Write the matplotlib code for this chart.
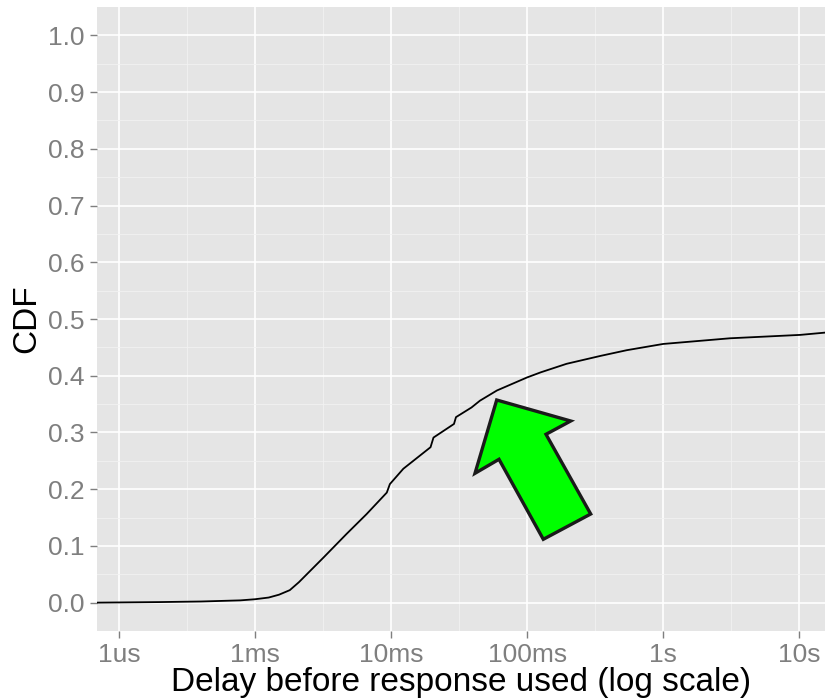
import matplotlib
matplotlib.use("Agg")
import matplotlib.pyplot as plt
from matplotlib.patches import Polygon
from matplotlib.ticker import FixedLocator, NullFormatter
import numpy as np

plt.rcParams['font.family'] = ['Liberation Sans', 'DejaVu Sans']

# delay (seconds, log axis) and cumulative fraction of responses used
delay_s = [6.9e-5, 2.0e-4, 4.0e-4, 7.8e-4, 1.0e-3, 1.26e-3, 1.5e-3, 1.8e-3,
           2.1e-3, 3.2e-3, 4.7e-3, 6.6e-3,
           9.3e-3, 9.8e-3, 1.23e-2, 1.95e-2, 2.05e-2, 2.9e-2, 3.0e-2, 3.9e-2,
           4.5e-2, 6.0e-2, 0.1, 0.126, 0.195, 0.347, 0.54, 1.0, 3.1, 10.2, 15.5]
cdf = [0.0, 0.001, 0.002, 0.004, 0.006, 0.009, 0.014, 0.022,
       0.036, 0.080, 0.121, 0.156,
       0.194, 0.209, 0.236, 0.274, 0.291, 0.315, 0.327, 0.344,
       0.356, 0.374, 0.397, 0.406, 0.421, 0.435, 0.445, 0.456, 0.466, 0.472, 0.476]

tick_pos = [1e-4, 1e-3, 1e-2, 1e-1, 1, 10]
tick_labels = ["1us", "1ms", "10ms", "100ms", "1s", "10s"]
y_ticks = [i / 10 for i in range(11)]

# arrow outline in figure pixels (x, y from top)
arrow_px = [(496.7, 400), (570.7, 421), (546, 434.3), (590.7, 514),
            (543.3, 539.3), (499, 459.3), (475, 473.3)]

W, H = 825, 700
fig = plt.figure(figsize=(W / 100, H / 100), dpi=100)
ax = fig.add_axes([97 / W, 1 - 631 / H, 1 - 97 / W, (631 - 7) / H])

ax.set_facecolor('#E5E5E5')
for s in ax.spines.values():
    s.set_visible(False)

ax.set_xscale('log')
ax.set_xlim(10 ** -4.162, 10 ** 1.19)
ax.set_ylim(-0.05, 1.05)

ax.xaxis.set_major_locator(FixedLocator(tick_pos))
ax.set_xticklabels(tick_labels)
minor_x = [np.sqrt(a * b) for a, b in zip(tick_pos[:-1], tick_pos[1:])]
minor_x = [10 ** -4.5] + minor_x + [10 ** 1.5]
ax.xaxis.set_minor_locator(FixedLocator(minor_x))
ax.xaxis.set_minor_formatter(NullFormatter())
ax.set_yticks(y_ticks)
ax.set_yticklabels([f"{v:.1f}" for v in y_ticks])
ax.yaxis.set_minor_locator(FixedLocator([v + 0.05 for v in y_ticks[:-1]]))

ax.grid(which='major', color='white', linewidth=1.2)
ax.grid(which='minor', color='#F2F2F2', linewidth=0.6)
ax.set_axisbelow(True)

ax.tick_params(which='major', length=5, width=1, color='#7F7F7F',
               labelcolor='#7F7F7F', labelsize=19, pad=4)
ax.tick_params(which='minor', length=0)

ax.plot(delay_s, cdf, color='black', linewidth=1.3)

ax.set_xlabel('Delay before response used (log scale)', fontsize=24, labelpad=0)
ax.set_ylabel('CDF', fontsize=24, labelpad=4)

arrow = Polygon([(x / W, 1 - y / H) for x, y in arrow_px], closed=True,
                transform=fig.transFigure, facecolor='#00FF00',
                edgecolor='#1A1A1A', linewidth=2.4, joinstyle='miter')
fig.patches.append(arrow)

fig.savefig('out.png', dpi=100)
